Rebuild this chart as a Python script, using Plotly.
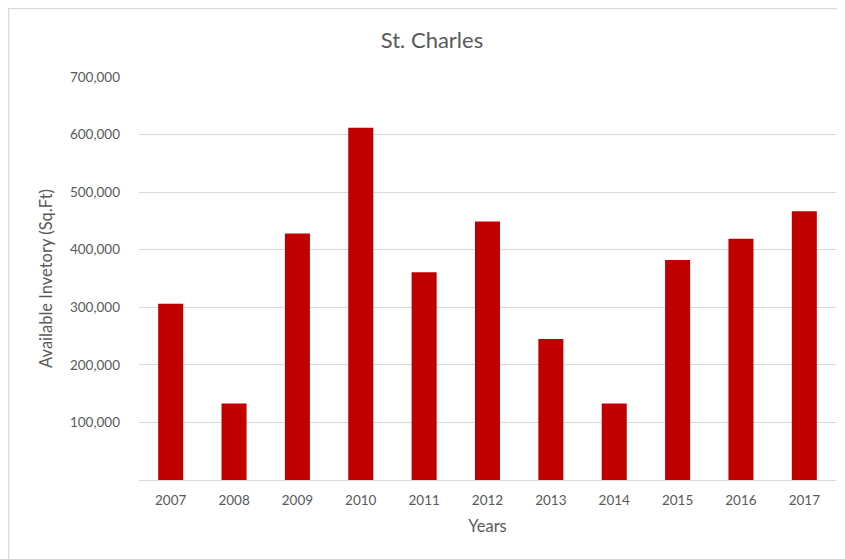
import plotly.graph_objects as go

years = ["2007", "2008", "2009", "2010", "2011", "2012", "2013", "2014", "2015", "2016", "2017"]
inventory = [306000, 133000, 428000, 612000, 361000, 449000, 245000, 133000, 382000, 419000, 467000]
y_ticks = [100000, 200000, 300000, 400000, 500000, 600000, 700000]
y_tick_labels = ["100,000", "200,000", "300,000", "400,000", "500,000", "600,000", "700,000"]

# page has an 8px body margin; figure coordinates = page coordinates - 8
OFF = 8
W, H = 845 - OFF, 559 - OFF
L, R, T, B = 139 - OFF, 9, 77 - OFF, 79
pw, ph = W - L - R, H - T - B

font_family = "Lato, 'Open Sans', sans-serif"
grey = "#595959"

fig = go.Figure(go.Bar(
    x=years, y=inventory,
    marker=dict(color="#c00000", line=dict(width=0)),
    hoverinfo="x+y",
))

def px_x(p):
    return (p - OFF - L) / pw

def px_y(p):
    return (H - B - (p - OFF)) / ph

fig.update_layout(
    width=W, height=H,
    margin=dict(l=L, r=R, t=T, b=B),
    paper_bgcolor="white", plot_bgcolor="white",
    bargap=0.605,
    showlegend=False,
    font=dict(family=font_family, color=grey, size=13),
    title=dict(text="St. Charles", x=px_x(432), xanchor="center", xref="paper",
               y=1 - (40 - OFF) / H, yanchor="middle",
               font=dict(size=22, color=grey, family=font_family)),
    xaxis=dict(
        showgrid=False, showline=True, linecolor="#d9d9d9", linewidth=1,
        ticks="", tickfont=dict(size=13.5, color=grey),
        ticklabelstandoff=8,
        title=dict(text="Years", font=dict(size=16.5, color=grey), standoff=13),
    ),
    yaxis=dict(
        range=[0, 700000], tickvals=y_ticks, ticktext=y_tick_labels,
        showgrid=True, gridcolor="#d9d9d9", gridwidth=1,
        zeroline=False, showline=False, ticks="",
        tickfont=dict(size=13.5, color=grey),
        ticklabelstandoff=18,
        title=dict(text="Available Invetory (Sq.Ft)", font=dict(size=16.5, color=grey), standoff=13),
    ),
    shapes=[
        dict(type="rect", xref="paper", yref="paper",
             x0=px_x(8.5), x1=px_x(900), y0=px_y(600), y1=px_y(8.5),
             line=dict(color="#d9d9d9", width=1.5), fillcolor="rgba(0,0,0,0)", layer="below"),
    ],
)

fig.write_html("out.html", config={"displayModeBar": False})
